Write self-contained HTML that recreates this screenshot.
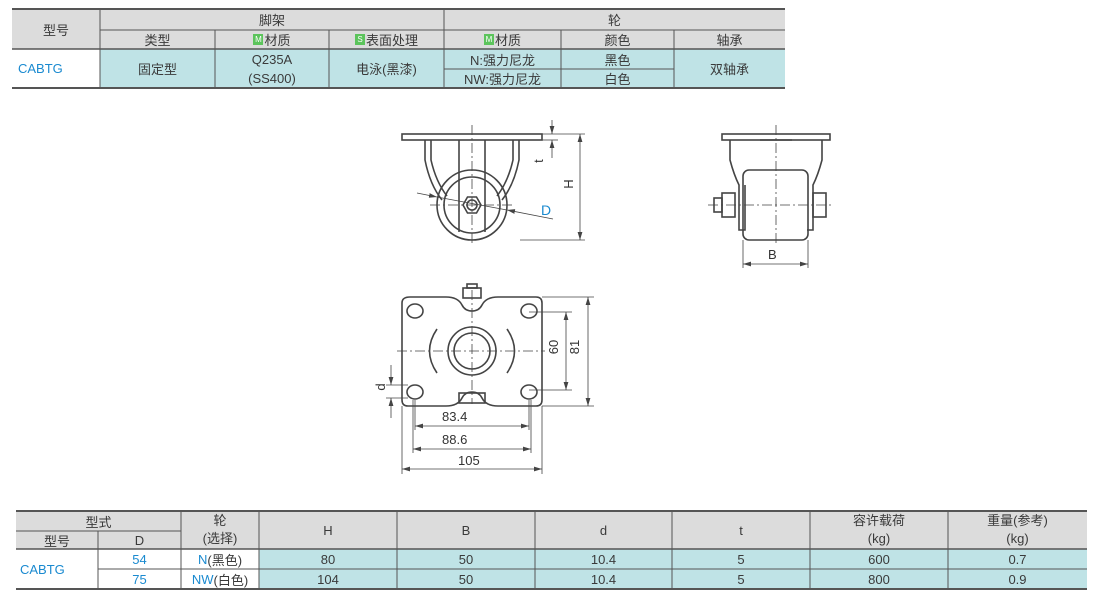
<!DOCTYPE html>
<html><head><meta charset="utf-8"><style>
body{margin:0;width:1100px;height:607px;background:#fff;position:relative;overflow:hidden;font-family:"Liberation Sans","Noto Sans CJK SC",sans-serif;color:#3a3a3a}
.c{position:absolute;display:flex;align-items:center;justify-content:center;font-size:13px;box-sizing:border-box}
.g{background:#dcdcdc}.t{background:#bfe3e6}.b{color:#1a8ad0}
.m{display:inline-block;width:10px;height:11px;background:#5cc45c;color:#fff;font-size:8px;line-height:11px;text-align:center;margin-right:1px}
</style></head><body>
<svg width="1100" height="607" style="position:absolute;left:0;top:0" fill="none" stroke="#444" stroke-width="1">
<defs>
<marker id="a" viewBox="0 0 10 6" refX="10" refY="3" markerWidth="8" markerHeight="5" orient="auto-start-reverse" markerUnits="userSpaceOnUse"><path d="M0 0 L10 3 L0 6Z" fill="#444" stroke="none"/></marker>
</defs>
<rect x="12" y="9" width="773" height="40" fill="#dcdcdc" stroke="none"/>
<rect x="100" y="49" width="685" height="39" fill="#bfe3e6" stroke="none"/>
<g stroke="#555">
<line x1="12" y1="9" x2="785" y2="9" stroke-width="2"/>
<line x1="12" y1="88" x2="785" y2="88" stroke-width="2"/>
<line x1="12" y1="49" x2="785" y2="49" stroke-width="1.5"/>
<line x1="100" y1="30" x2="785" y2="30"/>
<line x1="444" y1="69" x2="674" y2="69"/>
<line x1="100" y1="9" x2="100" y2="88"/><line x1="444" y1="9" x2="444" y2="88"/>
<line x1="215" y1="30" x2="215" y2="88"/><line x1="329" y1="30" x2="329" y2="88"/>
<line x1="561" y1="30" x2="561" y2="88"/><line x1="674" y1="30" x2="674" y2="88"/>
</g>
<rect x="16" y="511" width="1071" height="38" fill="#dcdcdc" stroke="none"/>
<rect x="259" y="549" width="828" height="40" fill="#bfe3e6" stroke="none"/>
<g stroke="#555">
<line x1="16" y1="511" x2="1087" y2="511" stroke-width="2"/>
<line x1="16" y1="589" x2="1087" y2="589" stroke-width="2"/>
<line x1="16" y1="549" x2="1087" y2="549" stroke-width="1.5"/>
<line x1="16" y1="531" x2="181" y2="531"/>
<line x1="98" y1="569" x2="1087" y2="569"/>
<line x1="98" y1="531" x2="98" y2="589"/><line x1="181" y1="511" x2="181" y2="589"/>
<line x1="259" y1="511" x2="259" y2="589"/><line x1="397" y1="511" x2="397" y2="589"/>
<line x1="535" y1="511" x2="535" y2="589"/><line x1="672" y1="511" x2="672" y2="589"/>
<line x1="810" y1="511" x2="810" y2="589"/><line x1="948" y1="511" x2="948" y2="589"/>
</g>
<!-- side view 1 -->
<g stroke-width="1.6">
<rect x="402" y="134" width="140" height="6"/>
<circle cx="472" cy="205" r="35"/><circle cx="472" cy="205" r="28"/>
<path d="M425 140 L425 160 Q430 185 442 200"/><path d="M431 140 L431 160 Q436 182 447 196"/>
<path d="M519 140 L519 160 Q514 185 502 200"/><path d="M513 140 L513 160 Q508 182 497 196"/>
<line x1="459" y1="140" x2="459" y2="232"/><line x1="485" y1="140" x2="485" y2="232"/>
<polygon points="463,205 467.5,197 476.5,197 481,205 476.5,213 467.5,213"/>
<circle cx="472" cy="205" r="5"/>
</g>
<g stroke-width="0.8">
<line x1="472" y1="125" x2="472" y2="246" stroke-dasharray="10,3,2,3"/>
<line x1="430" y1="205" x2="515" y2="205" stroke-dasharray="10,3,2,3"/>
<line x1="542" y1="134" x2="585" y2="134"/><line x1="520" y1="240" x2="585" y2="240"/>
<line x1="580" y1="134" x2="580" y2="240" marker-start="url(#a)" marker-end="url(#a)"/>
<line x1="542" y1="140" x2="558" y2="140"/>
<line x1="552" y1="120" x2="552" y2="134" marker-end="url(#a)"/><line x1="552" y1="158" x2="552" y2="140" marker-end="url(#a)"/>
<line x1="417" y1="193" x2="437" y2="197" marker-end="url(#a)"/>
<line x1="553" y1="219" x2="507" y2="210" marker-end="url(#a)"/>
<line x1="437" y1="197" x2="507" y2="210"/>
</g>
<!-- side view 2 -->
<g stroke-width="1.6">
<rect x="722" y="134" width="108" height="6"/>
<rect x="743" y="170" width="65" height="70" rx="6"/>
<path d="M730 140 L730 160 Q734 175 739 185 L739 230 L745 230 L745 185"/>
<path d="M822 140 L822 160 Q818 175 813 185 L813 230 L807 230"/>
<rect x="722" y="193" width="13" height="24"/><rect x="714" y="198" width="8" height="14"/>
<rect x="813" y="193" width="13" height="24"/>
<line x1="760" y1="140" x2="792" y2="140"/>
</g>
<g stroke-width="0.8">
<line x1="776" y1="125" x2="776" y2="245" stroke-dasharray="10,3,2,3"/>
<line x1="708" y1="205" x2="832" y2="205" stroke-dasharray="10,3,2,3"/>
<line x1="743" y1="240" x2="743" y2="268"/><line x1="808" y1="240" x2="808" y2="268"/>
<line x1="743" y1="264" x2="808" y2="264" marker-start="url(#a)" marker-end="url(#a)"/>
</g>
<!-- bottom view -->
<g stroke-width="1.6">
<path d="M410 297 L446 297 Q458 297 462 305 Q465 311 472 311 Q479 311 482 305 Q486 297 498 297 L536 297 Q542 297 542 303 L542 400 Q542 406 536 406 L498 406 Q486 406 482 398 Q479 392 472 392 Q465 392 462 398 Q458 406 446 406 L408 406 Q402 406 402 400 L402 303 Q402 297 410 297Z"/>
<rect x="463" y="288" width="18" height="10"/><rect x="467" y="284" width="10" height="4"/>
<rect x="459" y="393" width="26" height="10"/>
<circle cx="472" cy="351" r="24"/><circle cx="472" cy="351" r="18"/>
<ellipse cx="415" cy="311" rx="8" ry="7"/><ellipse cx="529" cy="311" rx="8" ry="7"/>
<ellipse cx="415" cy="392" rx="8" ry="7"/><ellipse cx="529" cy="392" rx="8" ry="7"/>
<path d="M437 329 Q422 351 437 373"/><path d="M507 329 Q522 351 507 373"/>
</g>
<g stroke-width="0.8">
<line x1="472" y1="290" x2="472" y2="404" stroke-dasharray="10,3,2,3"/>
<line x1="397" y1="351" x2="545" y2="351" stroke-dasharray="10,3,2,3"/>
<line x1="415" y1="400" x2="415" y2="430"/><line x1="529" y1="400" x2="529" y2="430"/>
<line x1="413" y1="400" x2="413" y2="453"/><line x1="531" y1="400" x2="531" y2="453"/>
<line x1="402" y1="406" x2="402" y2="474"/><line x1="542" y1="406" x2="542" y2="474"/>
<line x1="415" y1="426" x2="529" y2="426" marker-start="url(#a)" marker-end="url(#a)"/>
<line x1="413" y1="449" x2="531" y2="449" marker-start="url(#a)" marker-end="url(#a)"/>
<line x1="402" y1="469" x2="542" y2="469" marker-start="url(#a)" marker-end="url(#a)"/>
<line x1="529" y1="312" x2="572" y2="312"/><line x1="529" y1="390" x2="572" y2="390"/>
<line x1="566" y1="312" x2="566" y2="390" marker-start="url(#a)" marker-end="url(#a)"/>
<line x1="542" y1="297" x2="594" y2="297"/><line x1="542" y1="406" x2="594" y2="406"/>
<line x1="588" y1="297" x2="588" y2="406" marker-start="url(#a)" marker-end="url(#a)"/>
<line x1="386" y1="385" x2="408" y2="385"/><line x1="386" y1="398" x2="408" y2="398"/>
<line x1="391" y1="365" x2="391" y2="385" marker-end="url(#a)"/><line x1="391" y1="418" x2="391" y2="398" marker-end="url(#a)"/>
</g>
<g font-family="Liberation Sans" font-size="13" fill="#333" stroke="none">
<text x="442" y="421">83.4</text><text x="442" y="444">88.6</text><text x="458" y="465">105</text>
<text x="562" y="351" transform="rotate(-90 558 351)" text-anchor="middle">60</text>
<text x="583" y="351" transform="rotate(-90 579 351)" text-anchor="middle">81</text>
<text x="389" y="391" transform="rotate(-90 385 391)" text-anchor="middle">d</text>
<text x="577" y="188" transform="rotate(-90 573 188)" text-anchor="middle">H</text>
<text x="547" y="165" transform="rotate(-90 543 165)" text-anchor="middle">t</text>
<text x="541" y="215" fill="#1a8ad0" font-size="14">D</text>
<text x="768" y="259">B</text>
</g>
</svg>
<div class="c" style="left:12px;top:9px;width:88px;height:40px">型号</div>
<div class="c" style="left:100px;top:9px;width:344px;height:21px">脚架</div>
<div class="c" style="left:444px;top:9px;width:341px;height:21px">轮</div>
<div class="c" style="left:100px;top:30px;width:115px;height:19px">类型</div>
<div class="c" style="left:215px;top:30px;width:114px;height:19px"><span class="m">M</span>材质</div>
<div class="c" style="left:329px;top:30px;width:115px;height:19px"><span class="m">S</span>表面处理</div>
<div class="c" style="left:444px;top:30px;width:117px;height:19px"><span class="m">M</span>材质</div>
<div class="c" style="left:561px;top:30px;width:113px;height:19px">颜色</div>
<div class="c" style="left:674px;top:30px;width:111px;height:19px">轴承</div>
<div class="c b" style="left:12px;top:49px;width:88px;height:39px;justify-content:flex-start;padding-left:6px">CABTG</div>
<div class="c" style="left:100px;top:49px;width:115px;height:39px">固定型</div>
<div class="c" style="left:215px;top:49px;width:114px;height:39px;line-height:19px;text-align:center">Q235A<br>(SS400)</div>
<div class="c" style="left:329px;top:49px;width:115px;height:39px">电泳(黑漆)</div>
<div class="c" style="left:444px;top:49px;width:117px;height:20px">N:强力尼龙</div>
<div class="c" style="left:444px;top:69px;width:117px;height:19px">NW:强力尼龙</div>
<div class="c" style="left:561px;top:49px;width:113px;height:20px">黑色</div>
<div class="c" style="left:561px;top:69px;width:113px;height:19px">白色</div>
<div class="c" style="left:674px;top:49px;width:111px;height:39px">双轴承</div>
<div class="c" style="left:16px;top:511px;width:165px;height:20px">型式</div>
<div class="c" style="left:16px;top:531px;width:82px;height:18px">型号</div>
<div class="c" style="left:98px;top:531px;width:83px;height:18px">D</div>
<div class="c" style="left:181px;top:511px;width:78px;height:38px;line-height:18px;text-align:center">轮<br>(选择)</div>
<div class="c" style="left:259px;top:511px;width:138px;height:38px">H</div>
<div class="c" style="left:397px;top:511px;width:138px;height:38px">B</div>
<div class="c" style="left:535px;top:511px;width:137px;height:38px">d</div>
<div class="c" style="left:672px;top:511px;width:138px;height:38px">t</div>
<div class="c" style="left:810px;top:511px;width:138px;height:38px;line-height:18px;text-align:center">容许载荷<br>(kg)</div>
<div class="c" style="left:948px;top:511px;width:139px;height:38px;line-height:18px;text-align:center">重量(参考)<br>(kg)</div>
<div class="c b" style="left:16px;top:549px;width:82px;height:40px;justify-content:flex-start;padding-left:4px">CABTG</div>
<div class="c b" style="left:98px;top:549px;width:83px;height:20px">54</div>
<div class="c b" style="left:98px;top:569px;width:83px;height:20px">75</div>
<div class="c" style="left:181px;top:549px;width:78px;height:20px"><span class="b">N</span>(黑色)</div>
<div class="c" style="left:181px;top:569px;width:78px;height:20px"><span class="b">NW</span>(白色)</div>
<div class="c" style="left:259px;top:549px;width:138px;height:20px">80</div>
<div class="c" style="left:259px;top:569px;width:138px;height:20px">104</div>
<div class="c" style="left:397px;top:549px;width:138px;height:20px">50</div>
<div class="c" style="left:397px;top:569px;width:138px;height:20px">50</div>
<div class="c" style="left:535px;top:549px;width:137px;height:20px">10.4</div>
<div class="c" style="left:535px;top:569px;width:137px;height:20px">10.4</div>
<div class="c" style="left:672px;top:549px;width:138px;height:20px">5</div>
<div class="c" style="left:672px;top:569px;width:138px;height:20px">5</div>
<div class="c" style="left:810px;top:549px;width:138px;height:20px">600</div>
<div class="c" style="left:810px;top:569px;width:138px;height:20px">800</div>
<div class="c" style="left:948px;top:549px;width:139px;height:20px">0.7</div>
<div class="c" style="left:948px;top:569px;width:139px;height:20px">0.9</div>
</body></html>
